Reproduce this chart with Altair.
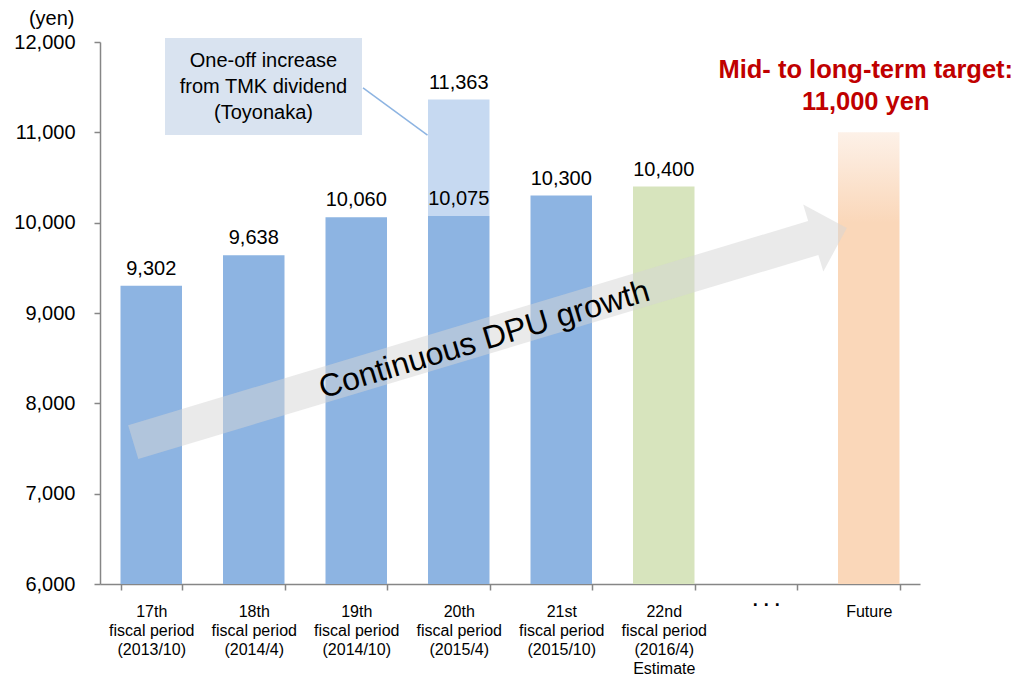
import altair as alt
import pandas as pd

# ---------------- data ----------------
period_labels = [
    "17th\nfiscal period\n(2013/10)",
    "18th\nfiscal period\n(2014/4)",
    "19th\nfiscal period\n(2014/10)",
    "20th\nfiscal period\n(2015/4)",
    "21st\nfiscal period\n(2015/10)",
    "22nd\nfiscal period\n(2016/4)\nEstimate",
    "· · ·",
    "Future",
]
dpu_values = [9302, 9638, 10060, 10075, 10300, 10400, None, 11000]
bar_kinds = ["Actual", "Actual", "Actual", "Actual", "Actual", "Estimate", None, "Target"]
one_off_index = 3
one_off_total = 11363
y_ticks = [6000, 7000, 8000, 9000, 10000, 11000, 12000]
y_min, y_max = 6000, 12000

callout_lines = ["One-off increase", "from TMK dividend", "(Toyonaka)"]
target_lines = ["Mid- to long-term target:", "11,000 yen"]
growth_text = ["Continuous DPU growth"]

# annotation anchors (slot units 0..8 on x, yen on y)
arrow_x = [3.805]
arrow_y = [8756]
growth_x = [3.75]
growth_y = [8705]
callout_x = [0.634]
callout_x2 = [2.556]
callout_y = [10970]
callout_y2 = [12044]
callout_text_y = [11790]
leader_x = [2.566]
leader_x2 = [3.195]
leader_y = [11491]
leader_y2 = [10970]
target_y = [11690]

FONT = "Liberation Sans"
BLUE = "#8DB4E2"
LIGHT_BLUE = "#C6D9F1"
GREEN = "#D7E4BD"
PEACH = "#FAD7B9"
AXIS_GRAY = "#868686"

# ---------------- frames ----------------
bars = pd.DataFrame({"period": period_labels, "dpu": dpu_values, "kind": bar_kinds})
bars["base"] = y_min
main_bars = bars[bars["kind"].isin(["Actual", "Estimate"])]
future_bar = bars[bars["kind"] == "Target"]
one_off = pd.DataFrame({
    "period": [period_labels[one_off_index]],
    "low": [dpu_values[one_off_index]],
    "high": [one_off_total],
})
labels = pd.concat([
    main_bars[["period", "dpu"]],
    pd.DataFrame({"period": [period_labels[one_off_index]], "dpu": [one_off_total]}),
])
labels["text"] = labels["dpu"].map(lambda v: f"{int(v):,}")

yscale = alt.Scale(domain=[y_min, y_max], nice=False, zero=False)
qx = alt.Scale(domain=[0, 8], nice=False, zero=False)

DOTS_TEST = "datum.value == '· · ·'"

x_axis = alt.Axis(
    title=None,
    labelExpr="split(datum.label, '\\n')",
    labelAngle=0,
    labelFont=FONT,
    labelFontSize={"condition": {"test": DOTS_TEST, "value": 18}, "value": 16},
    labelFontWeight={"condition": {"test": DOTS_TEST, "value": "bold"}, "value": "normal"},
    labelPadding={"condition": {"test": DOTS_TEST, "value": 6}, "value": 13},
    labelLineHeight=19,
    labelColor="black",
    labelBaseline="top",
    tickBand="extent",
    tickSize=6,
    tickWidth=1.5,
    tickColor=AXIS_GRAY,
    domainColor=AXIS_GRAY,
    domainWidth=1.5,
    grid=False,
)

y_axis = alt.Axis(
    values=y_ticks,
    labelExpr="format(datum.value, ',')",
    title="(yen)",
    titleAngle=0,
    titleAlign="right",
    titleBaseline="middle",
    titleX=-26,
    titleY=-24,
    titleFont=FONT,
    titleFontSize=20,
    titleFontWeight="normal",
    titleColor="black",
    labelFont=FONT,
    labelFontSize=20,
    labelColor="black",
    labelPadding=19,
    tickSize=6,
    tickWidth=1.5,
    tickColor=AXIS_GRAY,
    domainColor=AXIS_GRAY,
    domainWidth=1.5,
    grid=False,
)


def xcat(axis=None):
    return alt.X(
        "period:N",
        scale=alt.Scale(domain=period_labels, paddingInner=0.4, paddingOuter=0.2),
        axis=axis,
        title=None,
    )


def yq(field):
    return alt.Y(field, scale=yscale, axis=y_axis, title="(yen)")


bar_layer = alt.Chart(main_bars).mark_bar().encode(
    x=xcat(x_axis),
    y=yq("dpu:Q"),
    y2="base:Q",
    color=alt.Color("kind:N", scale=alt.Scale(domain=["Actual", "Estimate"], range=[BLUE, GREEN]), legend=None),
)

one_off_layer = alt.Chart(one_off).mark_bar(color=LIGHT_BLUE).encode(
    x=xcat(), y=yq("high:Q"), y2="low:Q"
)

future_layer = alt.Chart(future_bar).mark_bar(
    color=alt.Gradient(
        gradient="linear",
        stops=[
            alt.GradientStop(color="#FDF1E8", offset=0),
            alt.GradientStop(color=PEACH, offset=0.2),
            alt.GradientStop(color=PEACH, offset=1),
        ],
        x1=0, x2=0, y1=0, y2=1,
    )
).encode(x=xcat(), y=yq("dpu:Q"), y2="base:Q")

value_labels = alt.Chart(labels).mark_text(
    font=FONT, fontSize=20, color="black", baseline="alphabetic", dy=-11
).encode(x=xcat(), y=yq("dpu:Q"), text="text:N")

arrow_path = (
    "M -1 -0.0475 L 0.906 -0.0475 L 0.906 -0.094 L 1 0 "
    "L 0.906 0.094 L 0.906 0.0475 L -1 0.0475 Z"
)
arrow_layer = alt.Chart(pd.DataFrame({"x": arrow_x, "y": arrow_y})).mark_point(
    shape=arrow_path, filled=True, color="#D6D6D6", opacity=0.5, size=745 * 745,
    angle=343.3, strokeWidth=0,
).encode(
    x=alt.X("x:Q", scale=qx, axis=None),
    y=yq("y:Q"),
)

growth_layer = alt.Chart(pd.DataFrame({"x": growth_x, "y": growth_y, "t": growth_text})).mark_text(
    font=FONT, fontSize=32, color="black", angle=343.3, align="center", baseline="middle"
).encode(x=alt.X("x:Q", scale=qx, axis=None), y=yq("y:Q"), text="t:N")

callout_box = alt.Chart(pd.DataFrame({
    "x": callout_x, "x2": callout_x2, "y": callout_y, "y2": callout_y2
})).mark_rect(color="#D9E3F0").encode(
    x=alt.X("x:Q", scale=qx, axis=None), x2="x2:Q",
    y=yq("y:Q"), y2="y2:Q",
)

callout_text = alt.Chart(pd.DataFrame({
    "x": [(callout_x[0] + callout_x2[0]) / 2],
    "y": callout_text_y,
    "t": ["\n".join(callout_lines)],
})).mark_text(
    font=FONT, fontSize=20, color="black", align="center", baseline="middle",
    lineBreak="\n", lineHeight=26,
).encode(x=alt.X("x:Q", scale=qx, axis=None), y=yq("y:Q"), text="t:N")

leader = alt.Chart(pd.DataFrame({
    "x": leader_x, "x2": leader_x2, "y": leader_y, "y2": leader_y2
})).mark_rule(color=BLUE, strokeWidth=1.5).encode(
    x=alt.X("x:Q", scale=qx, axis=None), x2="x2:Q",
    y=yq("y:Q"), y2="y2:Q",
)

target_text = alt.Chart(pd.DataFrame({
    "period": [period_labels[-1]], "y": target_y, "t": ["\n".join(target_lines)],
})).mark_text(
    font=FONT, fontSize=25.5, fontWeight="bold", color="#C00000", align="center",
    baseline="middle", lineBreak="\n", lineHeight=32, dx=-3,
).encode(x=xcat(), y=yq("y:Q"), text="t:N")

chart = alt.layer(
    bar_layer, one_off_layer, future_layer, value_labels,
    callout_box, callout_text, leader,
    arrow_layer, growth_layer, target_text,
).resolve_scale(x="independent").properties(
    width=820,
    height=542,
    autosize=alt.AutoSizeParams(type="none"),
    padding={"left": 92, "top": 34, "right": 96, "bottom": 92},
    background="white",
).configure_view(stroke=None)

chart.save("out.html", embed_options={"renderer": "svg", "actions": False})
